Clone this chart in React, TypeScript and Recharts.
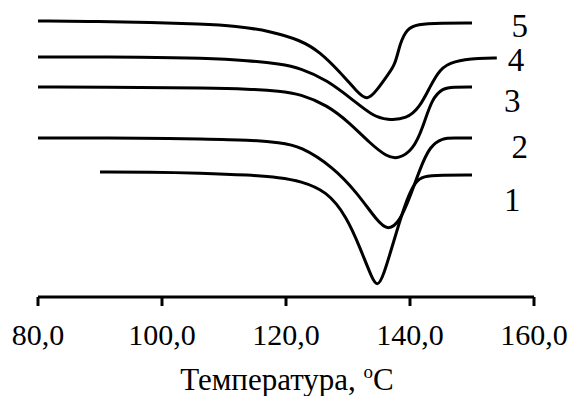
import React from "react";
import { LineChart, Line, XAxis, YAxis, ReferenceDot } from "recharts";

// temperature, °C and DSC signal (arbitrary units, up = positive)
const curve5 = [
  { t: 80, v: 276 }, { t: 90, v: 275.5 }, { t: 98.1, v: 274.5 }, { t: 106.1, v: 273 },
  { t: 112, v: 271 }, { t: 117.4, v: 266 }, { t: 122.3, v: 257 }, { t: 125.5, v: 245 },
  { t: 128.7, v: 225 }, { t: 131.5, v: 205 }, { t: 133.1, v: 196 }, { t: 134.7, v: 207 },
  { t: 136.5, v: 223 }, { t: 137.6, v: 232 }, { t: 138.4, v: 254 }, { t: 139.5, v: 268 },
  { t: 141.1, v: 273 }, { t: 145, v: 274 }, { t: 150, v: 274 },
];
const curve4 = [
  { t: 80, v: 240 }, { t: 98.1, v: 240 }, { t: 106.1, v: 239 }, { t: 114.2, v: 236.5 },
  { t: 119, v: 233 }, { t: 122.3, v: 229 }, { t: 126.6, v: 217 }, { t: 130.8, v: 197 },
  { t: 134, v: 181 }, { t: 136.3, v: 177 }, { t: 139.5, v: 178 }, { t: 141.6, v: 190 },
  { t: 143.2, v: 210 }, { t: 144.8, v: 228 }, { t: 146.9, v: 236 }, { t: 151.3, v: 239 },
  { t: 154, v: 239 },
];
const curve3 = [
  { t: 80, v: 210 }, { t: 98.1, v: 209.5 }, { t: 106.1, v: 209 }, { t: 114.2, v: 208 },
  { t: 119, v: 206 }, { t: 122.3, v: 203 }, { t: 126.6, v: 192 }, { t: 130.3, v: 174 },
  { t: 133.5, v: 154 }, { t: 136.3, v: 140 }, { t: 138.1, v: 138 }, { t: 140.5, v: 147 },
  { t: 142.1, v: 170 }, { t: 143.5, v: 198 }, { t: 145.3, v: 209 }, { t: 147, v: 210 },
  { t: 150, v: 210 },
];
const curve2 = [
  { t: 80, v: 159 }, { t: 98.1, v: 159 }, { t: 106.1, v: 158 }, { t: 114.2, v: 157 },
  { t: 119, v: 154.5 }, { t: 122.3, v: 151 }, { t: 127.6, v: 130 }, { t: 131.5, v: 104 },
  { t: 134.7, v: 76 }, { t: 136.5, v: 66 }, { t: 138.4, v: 76 }, { t: 140, v: 100 },
  { t: 141.6, v: 128 }, { t: 143.2, v: 151 }, { t: 145.3, v: 159 }, { t: 147, v: 159 },
  { t: 150, v: 159 },
];
const curve1 = [
  { t: 90, v: 125 }, { t: 98.1, v: 125 }, { t: 106.1, v: 124 }, { t: 114.2, v: 122 },
  { t: 119, v: 119.5 }, { t: 122.3, v: 116 }, { t: 126.6, v: 106 }, { t: 129.8, v: 80 },
  { t: 131.9, v: 50 }, { t: 133.9, v: 18 }, { t: 134.7, v: 11 }, { t: 135.6, v: 18 },
  { t: 137.9, v: 67 }, { t: 139.5, v: 98 }, { t: 140.8, v: 115 }, { t: 142.1, v: 121 },
  { t: 145, v: 122 }, { t: 150, v: 122 },
];

const series = [curve1, curve2, curve3, curve4, curve5];
const curveLabels = [
  { name: "1", t: 156.5, v: 97 },
  { name: "2", t: 157.7, v: 150 },
  { name: "3", t: 156.5, v: 196 },
  { name: "4", t: 157.1, v: 237 },
  { name: "5", t: 157.7, v: 271 },
];
const xTicks = [80, 100, 120, 140, 160];

const FONT = "Liberation Serif";

const AxisTitle = ({ viewBox }: any) => {
  const cx = viewBox.x + viewBox.width / 2;
  return (
    <text x={cx + 1} y={viewBox.y + 93} textAnchor="middle" fontFamily={FONT} fontSize={31} fill="#000">
      Температура,{" "}
      <tspan fontSize={19} dy={-12}>o</tspan>
      <tspan dy={12}>C</tspan>
    </text>
  );
};

const XTick = ({ x, y, payload }: any) => (
  <text x={x} y={y + 39} textAnchor="middle" fontFamily={FONT} fontSize={30} fill="#000">
    {Number(payload.value).toFixed(1).replace(".", ",")}
  </text>
);

const CurveLabel = ({ viewBox, value }: any) => (
  <text
    x={viewBox.x + (viewBox.width || 0) / 2}
    y={viewBox.y + (viewBox.height || 0) / 2}
    textAnchor="middle"
    dominantBaseline="central"
    fontFamily={FONT}
    fontSize={33}
    fill="#000"
  >
    {value}
  </text>
);

export default function App() {
  return (
    <div style={{ position: "absolute", left: 0, top: 0, background: "#fff" }}>
      <LineChart width={574} height={396} margin={{ top: 7, right: 40, left: 38, bottom: 0 }}>
        <XAxis
          type="number"
          dataKey="t"
          domain={[80, 160]}
          ticks={xTicks}
          allowDataOverflow
          height={99}
          tickSize={9}
          tickMargin={0}
          stroke="#000"
          strokeWidth={3}
          tick={<XTick />}
          label={<AxisTitle />}
        />
        <YAxis type="number" dataKey="v" domain={[0, 290]} hide />
        {series.map((d, i) => (
          <Line
            key={i}
            data={d}
            dataKey="v"
            type="basis"
            stroke="#000"
            strokeWidth={3}
            dot={false}
            isAnimationActive={false}
          />
        ))}
        {curveLabels.map((l) => (
          <ReferenceDot
            key={l.name}
            x={l.t}
            y={l.v}
            r={0}
            stroke="none"
            fill="none"
            label={<CurveLabel value={l.name} />}
          />
        ))}
      </LineChart>
    </div>
  );
}
